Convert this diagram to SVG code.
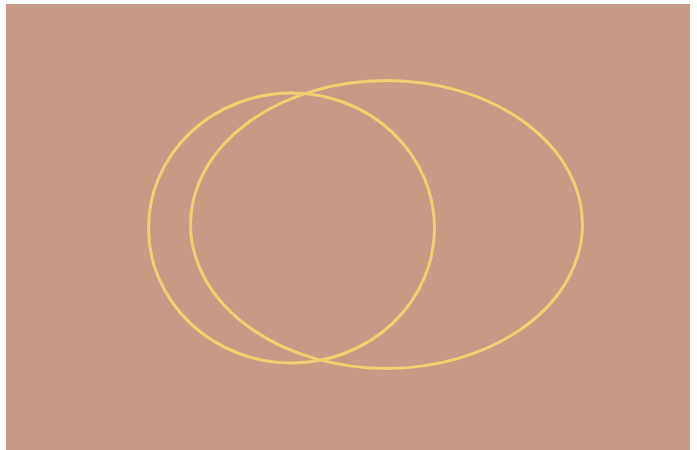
<svg xmlns="http://www.w3.org/2000/svg" width="697" height="450" viewBox="0 0 697 450">
<style>.ring{fill:none;stroke:#f2cf72;stroke-width:3}</style>
<rect width="697" height="450" fill="#ffffff"/>
<rect x="6" y="4" width="684" height="446" fill="#c79a86"/>
<g id="left-circle"><ellipse class="ring" cx="291.5" cy="228" rx="143" ry="135"/></g>
<g id="right-circle"><ellipse class="ring" cx="386.5" cy="224.5" rx="196" ry="144"/></g>
</svg>
